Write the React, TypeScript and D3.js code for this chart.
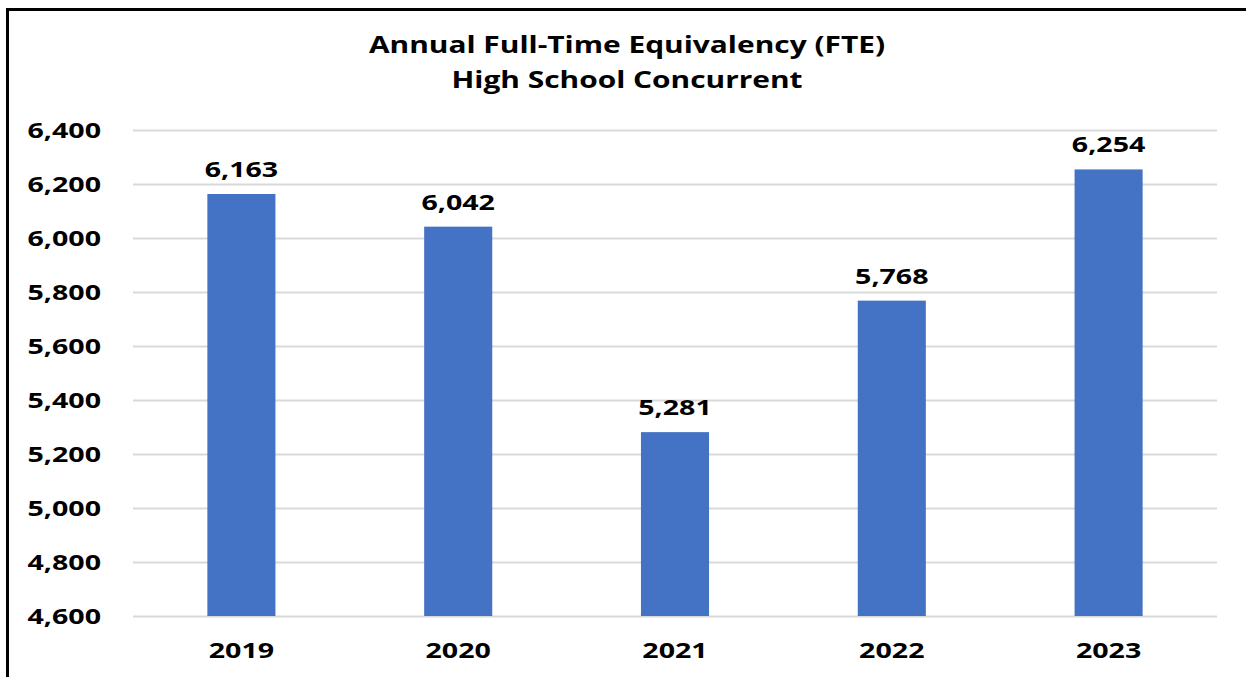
import React from "react";
import * as d3 from "d3";

const titleLines = ["Annual Full-Time Equivalency (FTE)", "High School Concurrent"];
const categories = ["2019", "2020", "2021", "2022", "2023"];
const values = [6163, 6042, 5281, 5768, 6254];
const yTicks = [4600, 4800, 5000, 5200, 5400, 5600, 5800, 6000, 6200, 6400];

const W = 1246;
const H = 677;
const FONT = "'Open Sans', sans-serif";
const SX = 1.3;

function T({ x, y, children, anchor = "middle", size = 22 }: any) {
  return (
    <text
      transform={`translate(${x},${y}) scale(${SX},1)`}
      textAnchor={anchor}
      fontFamily={FONT}
      fontWeight={700}
      fontSize={size}
      fill="#000"
    >
      {children}
    </text>
  );
}

export default function App() {
  const x = d3.scaleBand<string>().domain(categories).range([133, 1217]).paddingInner(0.686).paddingOuter(0.343);
  const y = d3.scaleLinear().domain([4600, 6400]).range([616, 130]);
  const fmt = d3.format(",");
  return (
    <svg width={W} height={H} style={{ position: "fixed", left: 0, top: 0, background: "#fff" }}>
      <rect x={0} y={0} width={W} height={H} fill="#fff" />
      <rect x={7.5} y={9.5} width={W + 50} height={H + 50} fill="none" stroke="#000" strokeWidth={3} />
      {yTicks.map((t) => (
        <line key={t} x1={133} x2={1217} y1={Math.round(y(t)) + 0.5} y2={Math.round(y(t)) + 0.5} stroke="#D9D9D9" strokeWidth={2} />
      ))}
      {yTicks.map((t) => (
        <T key={"l" + t} x={101} y={y(t) + 8} anchor="end">{fmt(t)}</T>
      ))}
      {categories.map((c, i) => (
        <rect key={c} x={x(c)} y={y(values[i])} width={x.bandwidth()} height={y(4600) - y(values[i])} fill="#4472C4" />
      ))}
      {categories.map((c, i) => (
        <T key={"v" + c} x={(x(c) as number) + x.bandwidth() / 2} y={y(values[i]) - 17}>{fmt(values[i])}</T>
      ))}
      {categories.map((c) => (
        <T key={"x" + c} x={(x(c) as number) + x.bandwidth() / 2} y={658}>{c}</T>
      ))}
      <T x={627} y={53} size={23}>{titleLines[0]}</T>
      <T x={627} y={88} size={23}>{titleLines[1]}</T>
    </svg>
  );
}
